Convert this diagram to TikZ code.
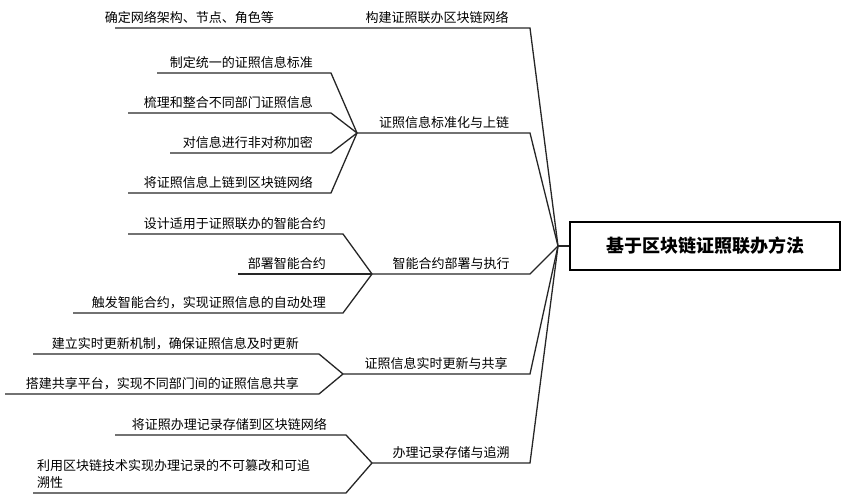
\documentclass[tikz,border=0pt]{standalone}
\usepackage{fontspec}
\newfontfamily\cjk{Noto Sans CJK SC}
\begin{document}
\begin{tikzpicture}[x=1pt,y=-1pt,
  ln/.style={line width=1.3pt,black!85},
  lbl/.style={font=\cjk\fontsize{13}{15}\selectfont,inner sep=1pt,anchor=south},
  lft/.style={font=\cjk\fontsize{13}{15}\selectfont,inner sep=1pt,anchor=south east}]
\useasboundingbox (0,0) rectangle (847,500);
\node[draw,line width=1.3pt,minimum width=270pt,minimum height=48pt,font=\cjk\bfseries\fontsize{18}{20}\selectfont] (root) at (705,246) {基于区块链证照联办方法};
\coordinate (J) at (558,246);
\draw[ln] (root.west) -- (J);
% branch 1
\coordinate (b1l) at (115,28); \coordinate (b1r) at (530,28);
\draw[ln] (b1l) -- (b1r) -- (J);
\node[lft] (c11) at (275,25) {确定网络架构、节点、角色等};
\node[lbl] (b1) at (437,25) {构建证照联办区块链网络};
% branch 2
\coordinate (j2) at (357,133); \coordinate (b2r) at (530,133);
\draw[ln] (j2) -- (b2r) -- (J);
\node[lbl] (b2) at (444,130) {证照信息标准化与上链};
\foreach \y/\l/\t [count=\i] in {73/157/制定统一的证照信息标准,113/128/梳理和整合不同部门证照信息,153/170/对信息进行非对称加密,193/128/将证照信息上链到区块链网络}{
  \draw[ln] (\l,\y) -- (331,\y) -- (j2);
  \node[lft] (c2\i) at (314,\y-3) {\t};
}
% branch 3
\coordinate (j3) at (372,274); \coordinate (b3r) at (530,274);
\draw[ln] (j3) -- (b3r) -- (J);
\node[lbl] (b3) at (451,271) {智能合约部署与执行};
\draw[ln] (128,234) -- (343,234) -- (j3);
\node[lft] (c31) at (327,231) {设计适用于证照联办的智能合约};
\draw[ln] (238,274) -- (j3);
\node[lft] (c32) at (327,271) {部署智能合约};
\draw[ln] (73,313) -- (343,313) -- (j3);
\node[lft] (c33) at (327,310) {触发智能合约，实现证照信息的自动处理};
% branch 4
\coordinate (j4) at (343,374); \coordinate (b4r) at (530,374);
\draw[ln] (j4) -- (b4r) -- (J);
\node[lbl] (b4) at (436,371) {证照信息实时更新与共享};
\draw[ln] (33,354) -- (319,354) -- (j4);
\node[lft] (c41) at (300,351) {建立实时更新机制，确保证照信息及时更新};
\draw[ln] (5,394) -- (319,394) -- (j4);
\node[lft] (c42) at (300,391) {搭建共享平台，实现不同部门间的证照信息共享};
% branch 5
\coordinate (j5) at (372,463); \coordinate (b5r) at (530,463);
\draw[ln] (j5) -- (b5r) -- (J);
\node[lbl] (b5) at (451,460) {办理记录存储与追溯};
\draw[ln] (115,435) -- (346,435) -- (j5);
\node[lft] (c51) at (328,432) {将证照办理记录存储到区块链网络};
\draw[ln] (33,493) -- (346,493) -- (j5);
\node[font=\cjk\fontsize{13}{17}\selectfont,inner sep=1pt,anchor=south west,align=left] (c52) at (36,490) {利用区块链技术实现办理记录的不可篡改和可追\\溯性};
\end{tikzpicture}
\end{document}
